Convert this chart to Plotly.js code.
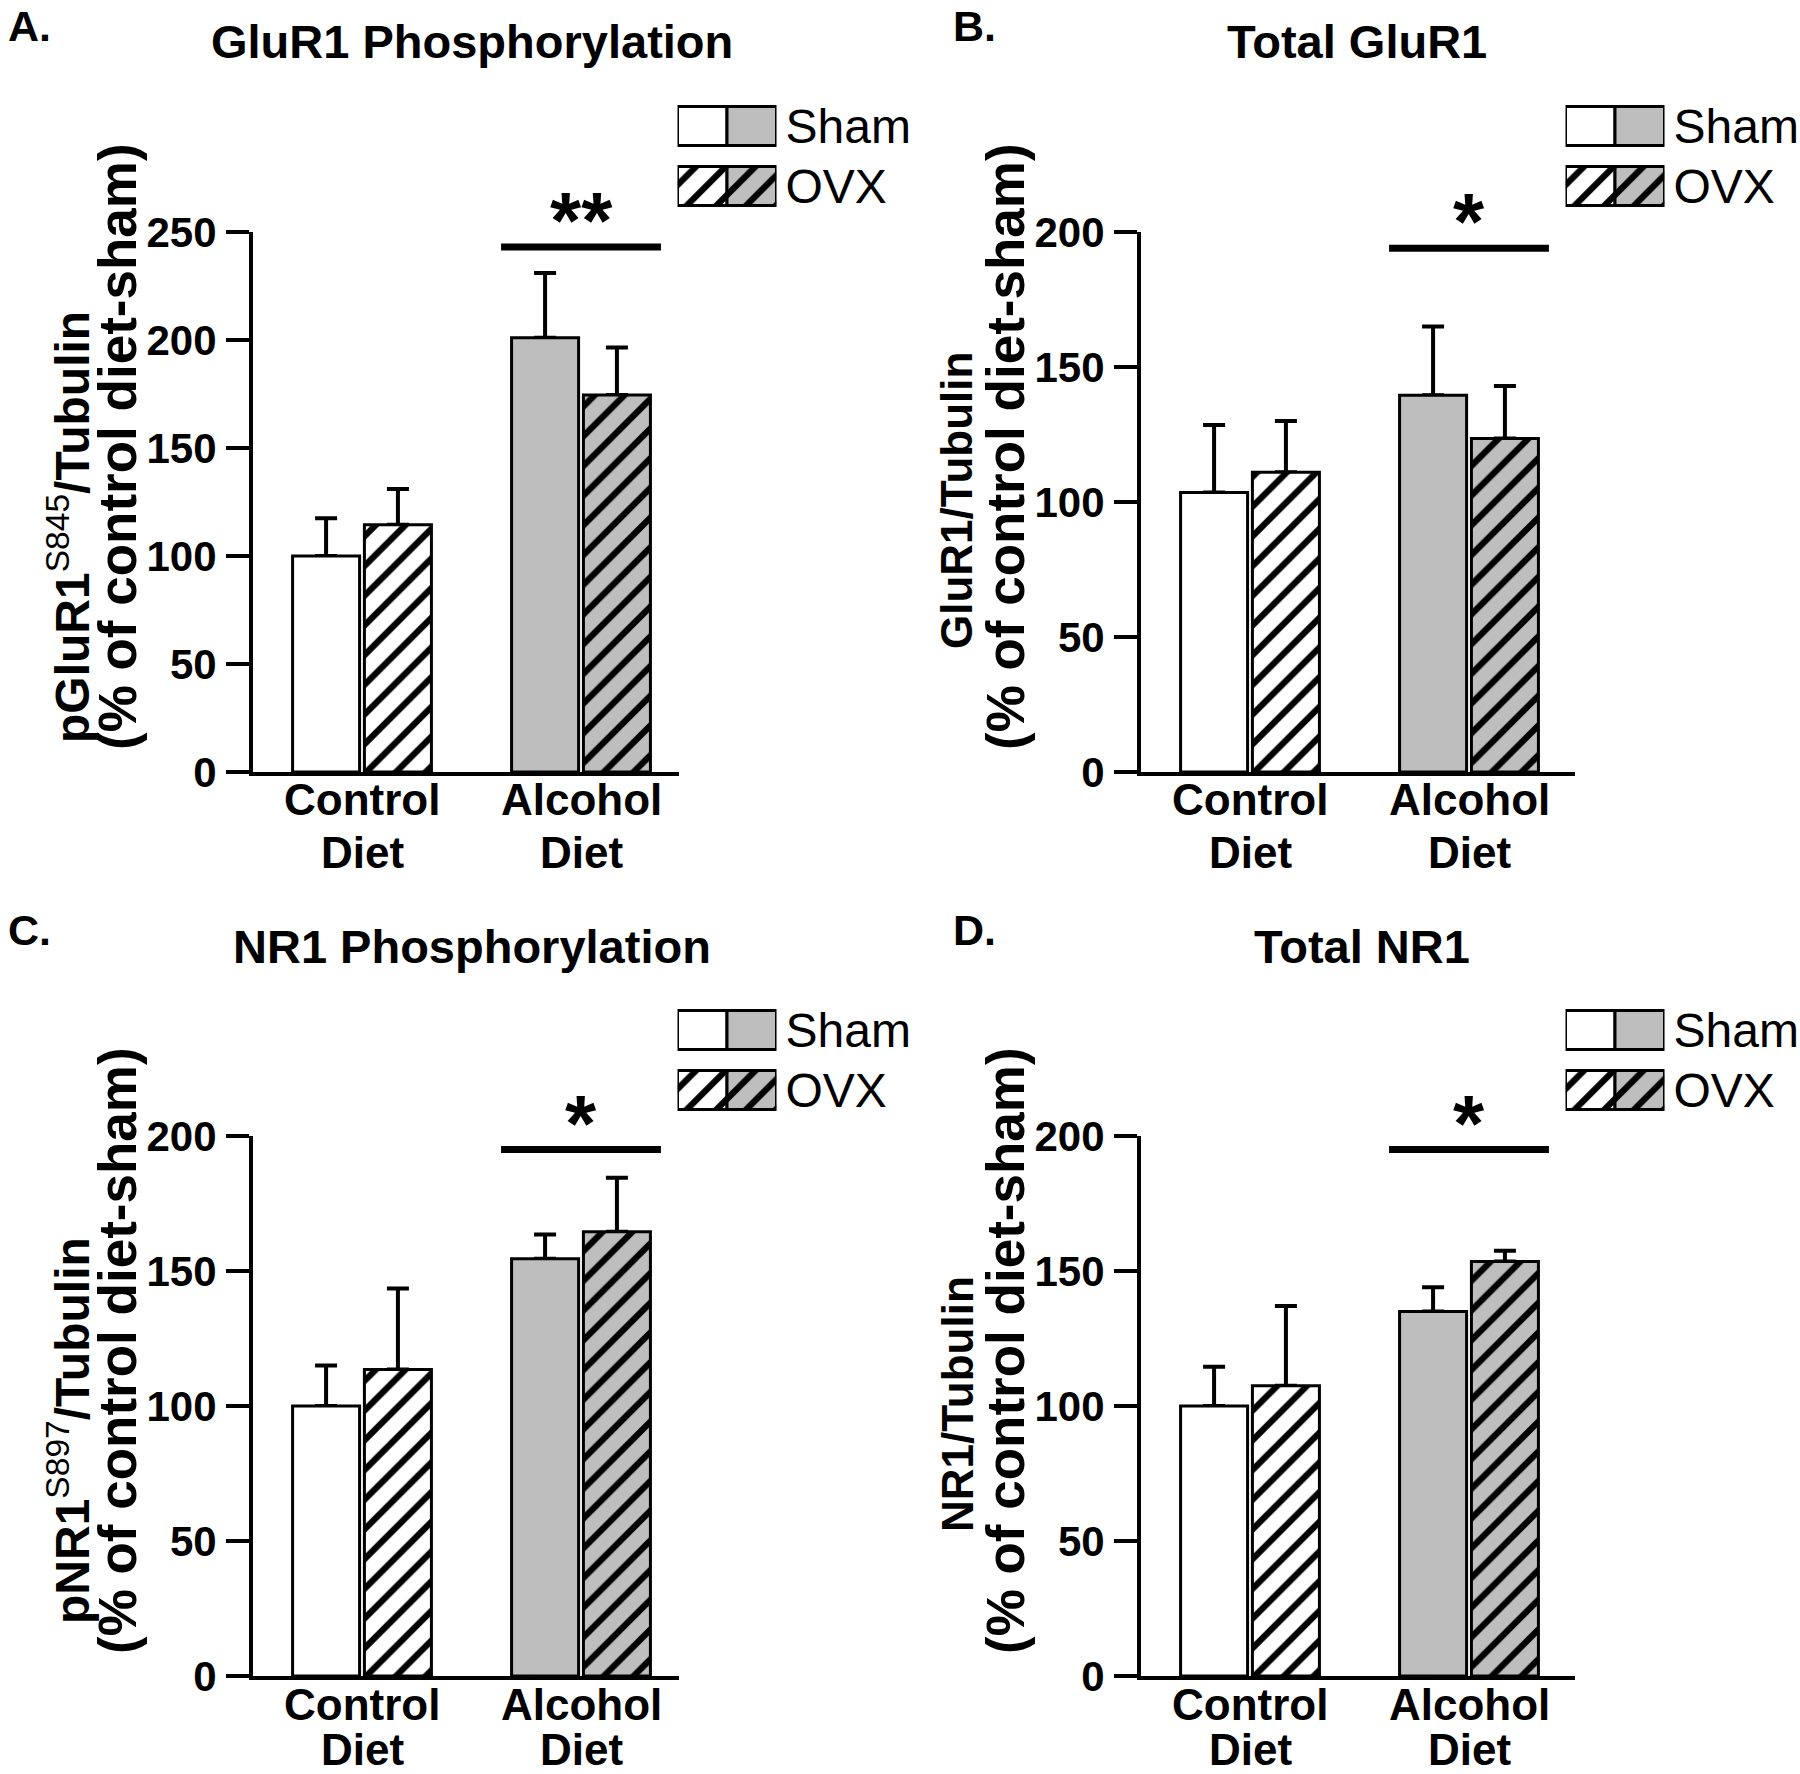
<!DOCTYPE html>
<html>
<head>
<meta charset="utf-8">
<script src="https://cdn.plot.ly/plotly-3.0.1.min.js"></script>
<style>
html, body { margin: 0; padding: 0; background: #ffffff; }
#chart { width: 1800px; height: 1774px; }
</style>
</head>
<body>
<div id="chart"></div>
<script>
// ---------------- DATA ----------------
const categories = [['Control', 'Diet'], ['Alcohol', 'Diet']];
const groups = ['Sham', 'OVX'];
const panelLetters = ['A.', 'B.', 'C.', 'D.'];
const panelTitles = ['GluR1 Phosphorylation', 'Total GluR1', 'NR1 Phosphorylation', 'Total NR1'];
const yTitleLine1 = [
  '<b>pGluR1</b><sup>S845</sup><b>/Tubulin</b>',
  '<b>GluR1/Tubulin</b>',
  '<b>pNR1</b><sup>S897</sup><b>/Tubulin</b>',
  '<b>NR1/Tubulin</b>'
];
const yTitleLine2 = '<b>(% of control diet-sham)</b>';
const yMax = [250, 200, 200, 200];
const yTickStep = 50;

// Panel A: GluR1 phosphorylation
const shamA = [100, 201];     const shamErrA = [17.5, 30];
const ovxA  = [114.5, 174.5]; const ovxErrA = [16.5, 22];
// Panel B: Total GluR1
const shamB = [103.5, 139.5]; const shamErrB = [25, 25.5];
const ovxB  = [111, 123.5];   const ovxErrB = [19, 19.5];
// Panel C: NR1 phosphorylation
const shamC = [100, 154.5];   const shamErrC = [15, 9];
const ovxC  = [113.5, 164.5]; const ovxErrC = [30, 20];
// Panel D: Total NR1
const shamD = [100, 135];     const shamErrD = [14.5, 9];
const ovxD  = [107.5, 153.5]; const ovxErrD = [29.5, 4];

const sigLabels = ['**', '*', '*', '*'];
const sigLevel = [243, 194, 195, 195];

// ---------------- STYLE / LAYOUT ----------------
const W = 1800, H = 1774;
const FONT = 'Liberation Sans, Arial, Helvetica, sans-serif';
const BLACK = '#000000', WHITE = '#ffffff', GRAY = '#bebebe';
const barFill = [WHITE, GRAY];

const shamVals = [shamA, shamB, shamC, shamD];
const shamErrs = [shamErrA, shamErrB, shamErrC, shamErrD];
const ovxVals = [ovxA, ovxB, ovxC, ovxD];
const ovxErrs = [ovxErrA, ovxErrB, ovxErrC, ovxErrD];

const catPos = categories.map((c, k) => k + 1);
const axisLeft = [253, 1141, 253, 1141];
const plotTop = [232, 232, 1136, 1136];
const plotBottom = [772, 772, 1676, 1676];
const plotWs = [426, 434, 426, 434];
const letterX = [6, 951, 6, 951];
const titleX = [472, 1357, 472, 1362];
const yTitle1Mid = [527, 500, 527, 500];
const yTitle1Size = [48, 44, 48, 44];
const yTitle2Mid = [447, 447, 447, 447];
const pxPerCat = 219;
const firstCatPx = 109;
const barSpec = [{ offset: -0.317, width: 0.306 }, { offset: 0.011, width: 0.306 }];

function axKey(p, n) { return p + 'axis' + (n === 1 ? '' : n); }
function ref(p, n) { return p + (n === 1 ? '' : n); }
function fx(px) { return px / W; }
function fy(py) { return 1 - py / H; }

const traces = [];
const annotations = [];
const shapes = [];
const layout = {
  width: W, height: H, autosize: false,
  margin: { l: 0, r: 0, t: 0, b: 0, pad: 0 },
  paper_bgcolor: WHITE, plot_bgcolor: 'rgba(0,0,0,0)',
  showlegend: false,
  font: { family: FONT, color: BLACK },
  annotations: annotations,
  shapes: shapes
};

for (let i = 0; i < 4; i++) {
  const n = i + 1, ln = i + 5;
  const xr = ref('x', n), yr = ref('y', n);
  const lx = ref('x', ln), ly = ref('y', ln);
  const left = axisLeft[i], top = plotTop[i], bottom = plotBottom[i], pw = plotWs[i];
  const rowShift = top - 232;
  const xRange = [1 - firstCatPx / pxPerCat, 1 - firstCatPx / pxPerCat + pw / pxPerCat];
  const vals = [shamVals[i], ovxVals[i]];
  const errs = [shamErrs[i], ovxErrs[i]];

  // error bars (drawn first, underneath the bars so only the upper whisker shows)
  vals.forEach((v, g) => {
    traces.push({
      type: 'bar', name: groups[g] + ' error', x: catPos, y: v, xaxis: xr, yaxis: yr,
      offset: barSpec[g].offset, width: barSpec[g].width,
      marker: { color: 'rgba(0,0,0,0)', line: { width: 0 } },
      error_y: { type: 'data', symmetric: false, array: errs[g], arrayminus: [0, 0],
                 color: BLACK, thickness: 4, width: 11 },
      hoverinfo: 'skip'
    });
  });
  // main bars
  traces.push({
    type: 'bar', name: groups[0], x: catPos, y: vals[0], xaxis: xr, yaxis: yr,
    offset: barSpec[0].offset, width: barSpec[0].width,
    marker: { color: barFill, line: { color: BLACK, width: 3 } },
    hoverinfo: 'skip'
  });
  traces.push({
    type: 'bar', name: groups[1], x: catPos, y: vals[1], xaxis: xr, yaxis: yr,
    offset: barSpec[1].offset, width: barSpec[1].width,
    marker: { color: WHITE, line: { color: BLACK, width: 3 },
              pattern: { shape: '/', fillmode: 'replace', fgcolor: BLACK, bgcolor: barFill, size: 21, solidity: 0.3 } },
    hoverinfo: 'skip'
  });

  layout[axKey('x', n)] = {
    domain: [fx(left), fx(left + pw)], range: xRange, anchor: yr,
    showline: true, linewidth: 4, linecolor: BLACK, ticks: '', showticklabels: false,
    showgrid: false, zeroline: false, fixedrange: true
  };
  layout[axKey('y', n)] = {
    domain: [fy(bottom), fy(top)], range: [0, yMax[i]], anchor: xr,
    showline: true, linewidth: 4, linecolor: BLACK,
    ticks: 'outside', ticklen: 23, tickwidth: 4, tickcolor: BLACK,
    tick0: 0, dtick: yTickStep, ticklabelstandoff: 1,
    tickfont: { family: FONT, size: 42, weight: 'bold', color: BLACK },
    showgrid: false, zeroline: false, fixedrange: true
  };

  // category labels (two lines each)
  categories.forEach((lines, k) => {
    lines.forEach((txt, j) => {
      let cy = bottom + 28 + j * 53;
      if (cy > H - 25) cy = H - 25;
      annotations.push({
        xref: xr, yref: 'paper', x: catPos[k], y: fy(cy),
        text: '<b>' + txt + '</b>', showarrow: false, xanchor: 'center', yanchor: 'middle',
        borderpad: 0,
        font: { family: FONT, size: 44, color: BLACK }
      });
    });
  });

  // legend swatches drawn as small stacked horizontal bars
  const legRows = groups.map((g, k) => k);
  const legPattern = groups.map((g, k) => (k === 0 ? '' : '/'));
  traces.push({
    type: 'bar', orientation: 'h', y: legRows, x: [1, 1], base: [0, 0],
    xaxis: lx, yaxis: ly, offset: -0.325, width: 0.65,
    marker: { color: WHITE, line: { color: BLACK, width: 3 },
              pattern: { shape: legPattern, fillmode: 'replace', fgcolor: BLACK, bgcolor: WHITE, size: 21, solidity: 0.3 } },
    hoverinfo: 'skip'
  });
  traces.push({
    type: 'bar', orientation: 'h', y: legRows, x: [1, 1], base: [1, 1],
    xaxis: lx, yaxis: ly, offset: -0.325, width: 0.65,
    marker: { color: GRAY, line: { color: BLACK, width: 3 },
              pattern: { shape: legPattern, fillmode: 'replace', fgcolor: BLACK, bgcolor: GRAY, size: 21, solidity: 0.3 } },
    hoverinfo: 'skip'
  });
  layout[axKey('x', ln)] = {
    domain: [fx(left + 424.5), fx(left + 523.5)], range: [0, 2], anchor: ly,
    visible: false, fixedrange: true
  };
  layout[axKey('y', ln)] = {
    domain: [fy(top - 16), fy(top - 136)], range: [1.5, -0.5], anchor: lx, side: 'right',
    showline: false, ticks: '', showgrid: false, zeroline: false,
    tickmode: 'array', tickvals: legRows, ticktext: groups, ticklabelstandoff: 8,
    tickfont: { family: FONT, size: 48, color: BLACK }, fixedrange: true
  };

  // significance bar + stars
  shapes.push({
    type: 'line', xref: xr, yref: yr, x0: catPos[1] - 0.365, x1: catPos[1] + 0.365,
    y0: sigLevel[i], y1: sigLevel[i], line: { color: BLACK, width: 7 }
  });
  annotations.push({
    xref: xr, yref: yr, x: catPos[1], y: sigLevel[i], text: sigLabels[i],
    showarrow: false, xanchor: 'center', yanchor: 'bottom', yshift: -20,
    font: { family: FONT, size: 80, weight: 'bold', color: BLACK }
  });

  // panel letter
  annotations.push({
    xref: 'paper', yref: 'paper', x: fx(letterX[i]), y: fy(26 + rowShift), text: panelLetters[i],
    showarrow: false, xanchor: 'left', yanchor: 'middle',
    font: { family: FONT, size: 43, weight: 'bold', color: BLACK }
  });
  // panel title
  annotations.push({
    xref: 'paper', yref: 'paper', x: fx(titleX[i]), y: fy(42 + rowShift), text: panelTitles[i],
    showarrow: false, xanchor: 'center', yanchor: 'middle',
    font: { family: FONT, size: 47, weight: 'bold', color: BLACK }
  });
  // y-axis titles (two lines)
  annotations.push({
    xref: 'paper', yref: 'paper', x: fx(left - 184), y: fy(yTitle1Mid[i] + rowShift), text: yTitleLine1[i],
    showarrow: false, textangle: -90, xanchor: 'center', yanchor: 'middle',
    font: { family: FONT, size: yTitle1Size[i], color: BLACK }
  });
  annotations.push({
    xref: 'paper', yref: 'paper', x: fx(left - 136), y: fy(yTitle2Mid[i] + rowShift), text: yTitleLine2,
    showarrow: false, textangle: -90, xanchor: 'center', yanchor: 'middle',
    font: { family: FONT, size: 53, color: BLACK }
  });
}

Plotly.newPlot('chart', traces, layout, { staticPlot: true, displayModeBar: false });
</script>
</body>
</html>
